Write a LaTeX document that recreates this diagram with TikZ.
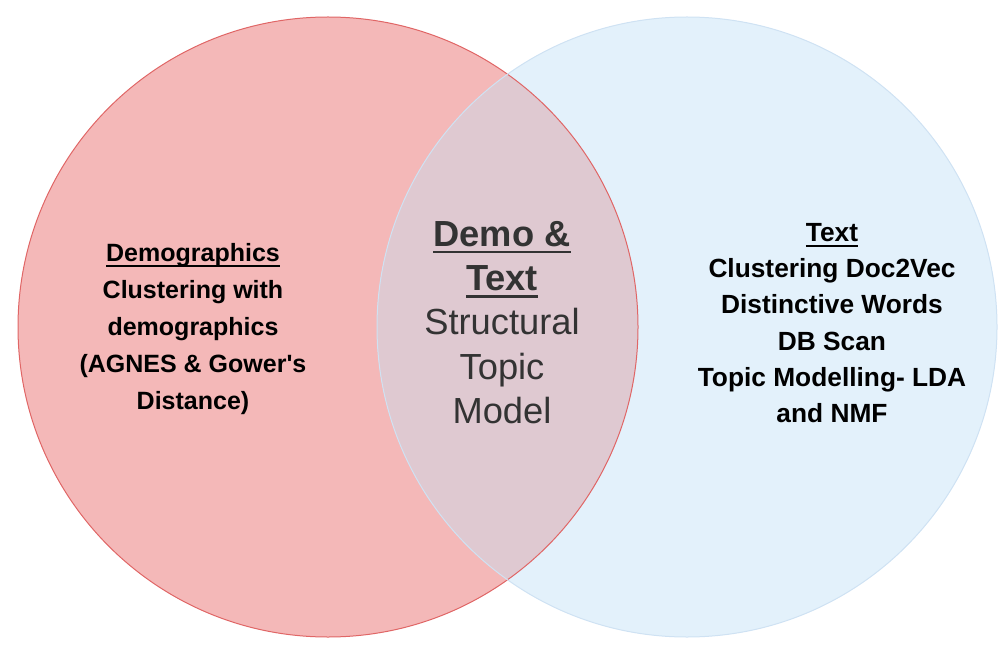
\documentclass[tikz,border=0pt]{standalone}
\usepackage{fontspec}
\setmainfont{Liberation Sans}
\newsavebox{\ulbox}
\newcommand{\myul}[3]{\sbox{\ulbox}{#3}\rlap{\rule[-#1]{\wd\ulbox}{#2}}\usebox{\ulbox}}
\newcommand{\straightapos}{\XeTeXglyph\XeTeXcharglyph"0027\relax}
\definecolor{leftfill}{HTML}{F4B8B8}
\definecolor{rightfill}{HTML}{E3F1FB}
\definecolor{overlapfill}{HTML}{DFC9D1}
\definecolor{leftline}{HTML}{E06666}
\definecolor{rightline}{HTML}{CFE2F3}
\definecolor{midtext}{HTML}{333333}
\tikzset{
  sidetext/.style={align=center, text=black, font=\fontsize{25}{37}\selectfont\bfseries},
  righttext/.style={align=center, text=black, font=\fontsize{26.3}{36.3}\selectfont\bfseries},
  midlabel/.style={align=center, text=midtext, font=\fontsize{36.3}{44.3}\selectfont},
}
\begin{document}
\begin{tikzpicture}[x=1pt,y=1pt]
\useasboundingbox (0,0) rectangle (1008,649);
\coordinate (L) at (328,322);
\coordinate (R) at (687,322);
\fill[leftfill] (L) circle (310pt);
\fill[rightfill] (R) circle (310pt);
\begin{scope}
  \clip (L) circle (310pt);
  \fill[overlapfill] (R) circle (310pt);
\end{scope}
\draw[leftline, line width=1pt] (L) circle (310pt);
\draw[rightline, line width=1pt] (R) circle (310pt);
\node[sidetext] (demo) at (193,320) {\myul{5.5pt}{1.8pt}{Demographics}\\Clustering with\\demographics\\(AGNES \& Gower\straightapos s\\Distance)};
\node[righttext] (text) at (832,326) {\myul{5.5pt}{1.8pt}{Text}\\Clustering Doc2Vec\\Distinctive Words\\DB Scan\\Topic Modelling- LDA\\and NMF};
\node[midlabel] (both) at (502,326.5) {\myul{7pt}{2.6pt}{\bfseries Demo \&}\\\myul{7pt}{2.6pt}{\bfseries Text}\\Structural\\Topic\\Model};
\end{tikzpicture}
\end{document}
